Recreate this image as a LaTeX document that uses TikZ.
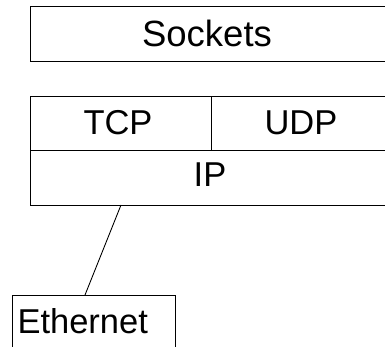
\documentclass[tikz,border=0pt]{standalone}
\usepackage{fontspec}
\setmainfont{Liberation Sans}
\usetikzlibrary{calc}
\begin{document}
\begin{tikzpicture}[x=1pt,y=-1pt,
  box/.style={draw, line width=0.9pt, inner sep=0pt, outer sep=0pt, anchor=north west},
  lbl/.style={font=\fontsize{34.5}{40}\selectfont, inner sep=0pt, anchor=base}]
\useasboundingbox (0,0) rectangle (385,347);
\clip (0,0) rectangle (385,347);
\node[box, minimum width=370pt, minimum height=55pt] (sockets) at (30,6) {};
\node[box, minimum width=181pt, minimum height=54pt] (tcp) at (30,96) {};
\node[box, minimum width=179pt, minimum height=54pt] (udp) at (211,96) {};
\node[box, minimum width=360pt, minimum height=55pt] (ip) at (30,150) {};
\node[box, minimum width=162.5pt, minimum height=70pt] (eth) at (12.5,295) {};
\node[lbl, font=\fontsize{36.5}{42}\selectfont] (tsockets) at (207,46.5) {Sockets};
\node[lbl] (ttcp) at (118,135) {TCP};
\node[lbl] (tudp) at (301,135) {UDP};
\node[lbl] (tip) at (210,186.5) {IP};
\node[lbl, anchor=base west] (teth) at (17.3,333) {Ethernet};
\draw[line width=0.9pt] ($(ip.south west)+(91,0)$) -- ($(eth.north west)+(72.5,0)$);
\end{tikzpicture}
\end{document}
